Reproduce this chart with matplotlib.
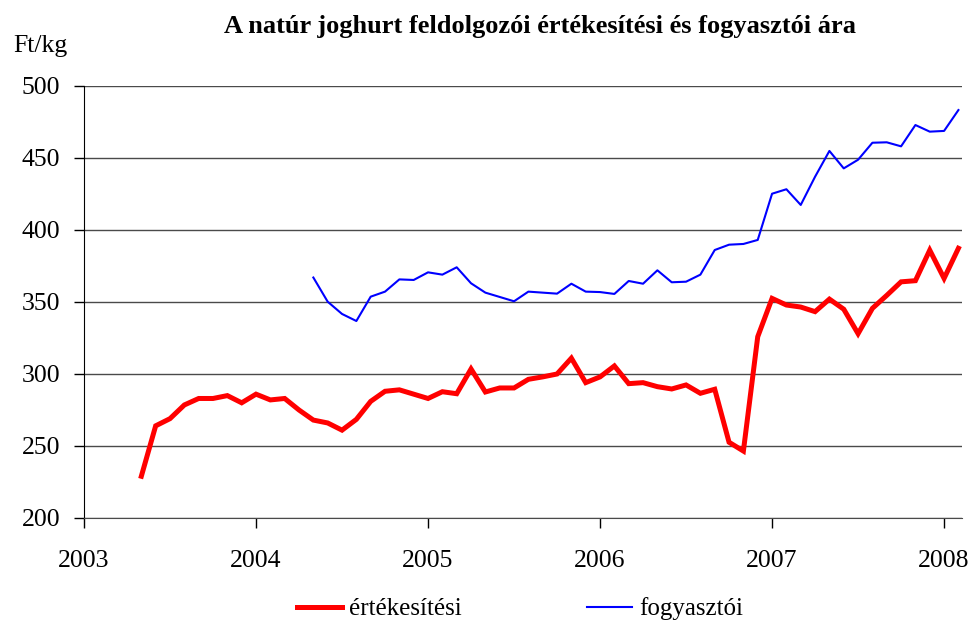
import matplotlib
matplotlib.use("Agg")
import matplotlib.pyplot as plt
import numpy as np

plt.rcParams['font.family'] = ['Liberation Serif', 'DejaVu Serif']

# month index from Jan 2003 (0) ; values in Ft/kg
red_start_month = 4
red_values = [229, 264, 269, 278.5, 283, 283, 285, 280, 286, 282, 283, 275, 268, 266,
              261, 268.5, 281, 288, 289, 286, 283, 287.7, 286.3, 303.5, 287.5, 290.3,
              290.3, 296.3, 298, 300, 311, 294, 298, 305.6, 293.3, 294, 291.2, 289.6,
              292.4, 286.6, 289.4, 252.6, 246.5, 325.9, 352.5, 347.9, 346.5, 343.3,
              352, 345, 328, 345.6, 354.6, 364, 364.8, 386, 366.4, 387.3]
blue_start_month = 16
blue_values = [367, 350.2, 341.7, 336.8, 353.7, 357.2, 365.7, 365.3, 370.6, 369, 374.1,
               363, 356.5, 353.5, 350.5, 357.2, 356.5, 355.8, 362.7, 357.2, 356.9, 355.6,
               364.6, 362.7, 372, 363.7, 364.1, 369, 386.1, 389.8, 390.3, 393.1, 425.2,
               428.3, 417.4, 437, 454.9, 442.8, 448.8, 460.6, 460.9, 458.1, 472.9, 468.3,
               468.8, 483.3]
series_names = ["értékesítési", "fogyasztói"]
year_ticks = [2003, 2004, 2005, 2006, 2007, 2008]
y_ticks = [200, 250, 300, 350, 400, 450, 500]

red_x = 2003 + (red_start_month + np.arange(len(red_values))) / 12.0
blue_x = 2003 + (blue_start_month + np.arange(len(blue_values))) / 12.0

fig = plt.figure(figsize=(9.76, 6.26), dpi=100)
ax = fig.add_axes([84/976, 1-518/626, (962-84)/976, (518-86)/626])

for yv in y_ticks:
    ax.axhline(yv, color='#4a4a4a', lw=1.0, zorder=1)

ax.plot(red_x, red_values, color='#ff0000', lw=3.6, label=series_names[0], zorder=3,
        solid_joinstyle='miter')
ax.plot(blue_x, blue_values, color='#0000ff', lw=1.5, label=series_names[1], zorder=3)

ax.set_xlim(2003, 2003 + 61.25/12)
ax.set_ylim(200, 500)
ax.set_xticks(year_ticks)
ax.set_xticklabels([str(y) for y in year_ticks])
ax.set_yticks(y_ticks)
ax.tick_params(axis='both', labelsize=18.5, length=7, width=1, direction='out', colors='black')
ax.tick_params(axis='x', pad=16)
ax.tick_params(axis='y', pad=10)
for s in ['top', 'right']:
    ax.spines[s].set_visible(False)
ax.spines['left'].set_color('black')
ax.spines['bottom'].set_color('#4a4a4a')

fig.text(540/976, 1-27/626, "A natúr joghurt feldolgozói értékesítési és fogyasztói ára",
         ha='center', va='center', fontsize=19, fontweight='bold')
fig.text(13/976, 1-46/626, "Ft/kg", ha='left', va='center', fontsize=18.5)

leg = fig.legend(loc='center', bbox_to_anchor=(520/976, 1-609/626), ncol=2, frameon=False,
                 fontsize=18, handlelength=1.8, handletextpad=0.3, columnspacing=5.0)

fig.savefig("out.png", dpi=100)
